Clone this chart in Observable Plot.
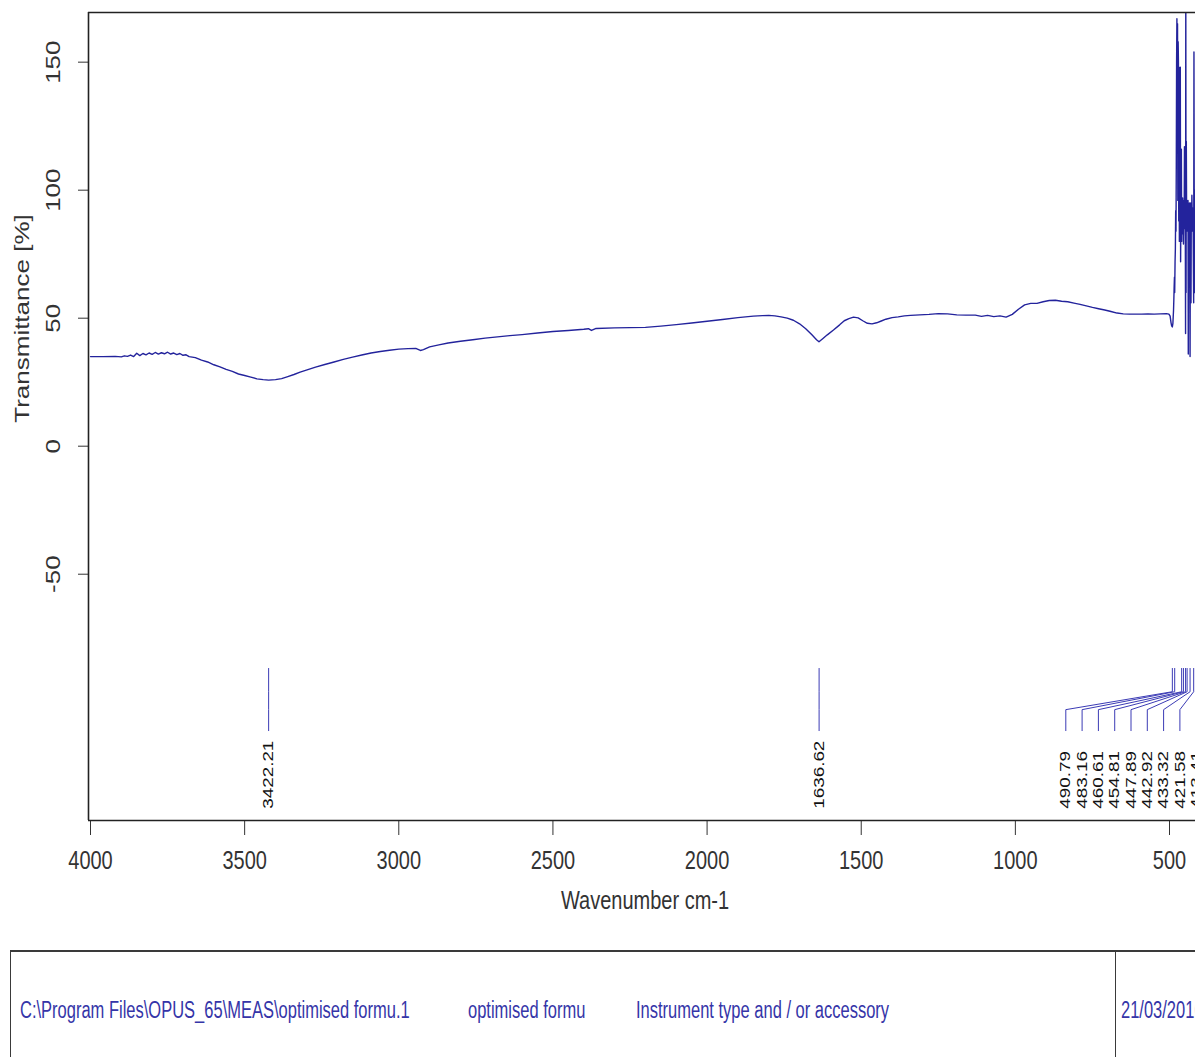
<!DOCTYPE html>
<html>
<head>
<meta charset="utf-8">
<script src="https://cdn.jsdelivr.net/npm/d3@7"></script>
<script src="https://cdn.jsdelivr.net/npm/@observablehq/plot@0.6"></script>
<style>
  html, body { margin: 0; padding: 0; background: #fff; }
  body { width: 1195px; height: 1057px; overflow: hidden; position: relative; font-family: "Liberation Sans", Arial, sans-serif; }
  #chart { position: absolute; left: 0; top: 0; }
  #footer { position: absolute; left: 10px; top: 950px; width: 1400px; height: 200px; border-top: 2px solid #3a3a3a; border-left: 1.5px solid #3a3a3a; }
  #footer .divider { position: absolute; left: 1104px; top: 0; width: 0; height: 200px; border-left: 1.5px solid #3a3a3a; }
  #footer span { position: absolute; top: 49px; font-size: 16.5px; color: #3535a8; white-space: nowrap; transform: scaleY(1.4); transform-origin: 0 50%; }
</style>
</head>
<body>
<div id="chart"></div>
<div id="footer">
  <span style="left:9px">C:\Program Files\OPUS_65\MEAS\optimised formu.1</span>
  <span style="left:457px">optimised formu</span>
  <span style="left:625px">Instrument type and / or accessory</span>
  <div class="divider"></div>
  <span style="left:1110px">21/03/2010</span>
</div>
<script>
// ---- spectrum (wavenumber cm-1, transmittance %) ----
const wavenumbers = [
  4000, 3960, 3920, 3900, 3890, 3880, 3870, 3860, 3850, 3840, 3830, 3820, 3810, 3800, 3790, 3780,
  3770, 3760, 3750, 3740, 3730, 3720, 3710, 3700, 3690, 3680, 3660, 3640, 3620, 3600, 3580, 3560,
  3540, 3520, 3500, 3480, 3460, 3440, 3422, 3400, 3380, 3360, 3340, 3320, 3300, 3270, 3240, 3210,
  3180, 3150, 3120, 3090, 3060, 3030, 3000, 2970, 2945, 2930, 2920, 2900, 2870, 2840, 2800, 2760,
  2720, 2680, 2640, 2600, 2550, 2500, 2450, 2400, 2385, 2375, 2360, 2300, 2250, 2200, 2150, 2100,
  2050, 2000, 1950, 1900, 1850, 1820, 1800, 1780, 1760, 1740, 1720, 1700, 1680, 1660, 1645, 1637,
  1625, 1610, 1590, 1570, 1555, 1540, 1525, 1510, 1495, 1480, 1465, 1450, 1435, 1420, 1400, 1380,
  1360, 1340, 1310, 1280, 1250, 1220, 1190, 1160, 1130, 1110, 1090, 1070, 1050, 1030, 1010, 990,
  970, 950, 930, 910, 890, 870, 850, 830, 810, 790, 770, 750, 730, 710, 690, 670,
  650, 630, 610, 590, 570, 550, 530, 510, 502, 498, 495, 493, 490.8, 489, 487, 486,
  485, 484, 483.2, 482, 481, 480, 479, 478, 477, 476, 475, 474, 473, 472, 471, 470,
  469, 468, 467, 466, 465, 464, 463, 462, 461.5, 460.6, 459.5, 458.5, 457.5, 456.5, 455.5, 454.8,
  453.5, 452.5, 451.5, 450.5, 449.5, 448.7, 447.9, 447.2, 446.3, 445.5, 444.5, 443.7, 442.9, 442, 441, 440,
  439.1, 438.2, 437.3, 436.4, 435.5, 434.6, 433.3, 432.3, 431.3, 430.3, 429.3, 428.4, 427.4, 426.4, 425.4, 424.4,
  423.4, 422.5, 421.6, 420.7, 419.8, 418.9, 418, 417, 416, 415, 414.2, 413.4, 412, 410, 400
];
const transmittance = [
  35.0, 35.0, 35.1, 34.9, 35.3, 35.1, 35.6, 35.0, 36.3, 35.4, 36.2, 35.7, 36.4, 35.9, 36.6, 36.0,
  36.5, 36.1, 36.7, 36.0, 36.4, 35.8, 36.2, 35.5, 35.7, 35.0, 34.6, 33.6, 32.9, 31.8, 31.0, 30.0,
  29.2, 28.2, 27.6, 27.0, 26.3, 26.0, 25.8, 26.0, 26.4, 27.2, 28.0, 28.9, 29.7, 30.9, 31.9, 32.9,
  33.9, 34.8, 35.6, 36.4, 37.0, 37.5, 37.9, 38.1, 38.2, 37.4, 37.7, 38.8, 39.6, 40.3, 41.0, 41.6,
  42.2, 42.7, 43.2, 43.6, 44.2, 44.8, 45.2, 45.7, 45.9, 45.2, 46.0, 46.2, 46.3, 46.4, 46.9, 47.5,
  48.1, 48.8, 49.5, 50.2, 50.8, 51.0, 51.1, 50.9, 50.5, 50.0, 49.2, 47.8, 45.9, 43.5, 41.6, 40.8,
  42.0, 43.5, 45.4, 47.4, 49.0, 49.8, 50.4, 50.1, 49.0, 48.0, 47.8, 48.2, 48.9, 49.6, 50.2, 50.5,
  50.9, 51.1, 51.3, 51.5, 51.8, 51.7, 51.3, 51.2, 51.2, 50.7, 51.1, 50.6, 50.9, 50.4, 51.5, 53.5,
  55.2, 55.8, 55.8, 56.4, 56.9, 57.0, 56.6, 56.4, 55.9, 55.4, 54.8, 54.2, 53.7, 53.2, 52.6, 52.0,
  51.7, 51.6, 51.6, 51.6, 51.7, 51.6, 51.7, 51.8, 51.6, 50.8, 48.2, 47.0, 46.6, 48.0, 53, 57,
  62, 66, 60, 72, 77, 92, 84, 110, 150, 167, 120, 165, 96, 158, 150, 88,
  148, 80, 130, 92, 148, 72, 96, 84, 116, 80, 94, 86, 97, 83, 96, 79,
  95, 85, 117, 88, 94, 82, 44, 185, 60, 119, 90, 96, 84, 95, 88, 96,
  36, 90, 94, 86, 95, 82, 35, 88, 95, 56, 92, 86, 98, 90, 84, 93,
  88, 70, 56, 154, 92, 60, 88, 75, 100, 95, 60, 45, 80, 90, 70
];
// ---- picked peaks ----
const peakWavenumbers = [3422.21, 1636.62, 490.79, 483.16, 460.61, 454.81, 447.89, 442.92, 433.32, 421.58, 413.41];
// ---- axes ----
const xTicks = [4000, 3500, 3000, 2500, 2000, 1500, 1000, 500];
const yTicks = [-50, 0, 50, 100, 150];
const xLabel = "Wavenumber cm-1";
const yLabel = "Transmittance [%]";

// ---- layout ----
const W = 1195, H = 940, mL = 88, mR = 0, mT = 12, mB = 120;
const xDomain = [4006.5, 415.7];
const yDomain = [-146.2, 169.4];
// annotation levels (transmittance units) for peak marker stubs and labels
const stubTop = -86.8, stubKnee = -95.9, stubFoot = -102.9, stubBottom = -111.1, labelStart = -141.6;

const spectrum = wavenumbers.map((wn, i) => ({wn, t: transmittance[i]}));

// spread overlapping peak labels to the left (min gap in px)
const pxPerWn = (W - mL - mR) / (xDomain[0] - xDomain[1]);
const gapWn = 16.3 / pxPerWn;
const sortedPeaks = [...peakWavenumbers].sort((a, b) => a - b);
const peaks = [];
let prev = -Infinity;
for (const wn of sortedPeaks) {
  const lw = Math.max(wn, prev + gapWn);
  peaks.push({wn, lw, label: d3.format(".2f")(wn)});
  prev = lw;
}
const stubs = peaks.flatMap(p => [
  {id: p.label, x: p.wn, y: stubTop},
  {id: p.label, x: p.wn, y: stubKnee},
  {id: p.label, x: p.lw, y: stubFoot},
  {id: p.label, x: p.lw, y: stubBottom}
]);

const ink = "#333";
const chart = Plot.plot({
  width: W, height: H,
  marginLeft: mL, marginRight: mR, marginTop: mT, marginBottom: mB,
  style: {fontFamily: "'Liberation Sans', Arial, sans-serif", fontSize: "20px", color: ink, background: "white"},
  x: {type: "linear", domain: xDomain},
  y: {type: "linear", domain: yDomain},
  marks: [
    Plot.axisX({ticks: xTicks, tickSize: 15, tickFormat: () => "", label: null, stroke: ink}),
    Plot.axisY({ticks: yTicks, tickSize: 10, tickFormat: () => "", label: null, stroke: ink}),
    Plot.text(xTicks, {x: d => d, text: d => String(d), frameAnchor: "bottom", dy: 40, fontSize: 20, lineAnchor: "middle", fill: ink}),
    Plot.text(yTicks, {y: d => d, text: d => String(d), frameAnchor: "left", dx: -35, rotate: -90, fontSize: 20, textAnchor: "middle", lineAnchor: "middle", fill: ink}),
    Plot.text([xLabel], {text: d => d, frameAnchor: "bottom", dx: 3, dy: 80, fontSize: 20, lineAnchor: "middle", fill: ink}),
    Plot.text([yLabel], {text: d => d, frameAnchor: "left", dx: -66, dy: -98, rotate: -90, fontSize: 20, textAnchor: "middle", lineAnchor: "middle", fill: ink}),
    Plot.line(stubs, {x: "x", y: "y", z: "id", stroke: "#3b3bb5", strokeWidth: 1}),
    Plot.text(peaks, {x: "lw", y: () => labelStart, text: "label", rotate: -90, textAnchor: "start", lineAnchor: "middle", fontSize: 14.5, fill: "#111"}),
    Plot.line(spectrum, {x: "wn", y: "t", stroke: "#23239c", strokeWidth: 1.4, clip: true}),
    Plot.ruleY([yDomain[1], yDomain[0]], {stroke: "#222", strokeWidth: 1.6}),
    Plot.ruleX([xDomain[0]], {stroke: "#222", strokeWidth: 1.6})
  ]
});

// the reference's lettering is drawn 1.3x taller than wide: stretch texts accordingly
const rotatedTexts = new Set([...yTicks.map(String), yLabel, ...peaks.map(p => p.label)]);
const uprightTexts = new Set([...xTicks.map(String), xLabel]);
chart.querySelectorAll("text").forEach(t => {
  const s = t.textContent;
  const tr = t.getAttribute("transform");
  if (!tr) return;
  if (rotatedTexts.has(s) && tr.includes("rotate")) t.setAttribute("transform", tr + " scale(1.3,1)");
  else if (uprightTexts.has(s) && !tr.includes("rotate")) t.setAttribute("transform", tr + " scale(1,1.3)");
});
document.getElementById("chart").append(chart);
</script>
</body>
</html>
